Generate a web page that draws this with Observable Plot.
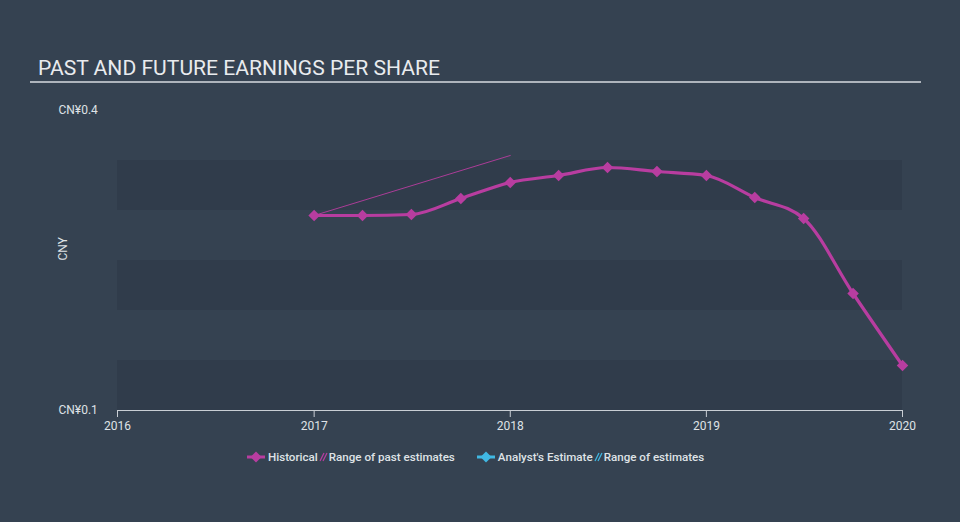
<!DOCTYPE html>
<html>
<head>
<meta charset="utf-8">
<script src="https://cdn.jsdelivr.net/npm/d3@7"></script>
<script src="https://cdn.jsdelivr.net/npm/@observablehq/plot@0.6"></script>
<style>
  html, body { margin: 0; padding: 0; background: #354251; }
  #wrap { position: relative; width: 960px; height: 522px; overflow: hidden;
          background: #354251; font-family: Roboto, "Noto Sans", sans-serif; }
  #title { position: absolute; left: 38px; top: 55px; font-size: 21.1px; color: #e9ebee; }
  #rule { position: absolute; left: 30px; top: 81px; width: 891px; height: 2px; background: #aeb4bc; }
  #chart { position: absolute; left: 0; top: 0; }
  #legend { position: absolute; left: 246px; top: 450px; font-size: 11.6px; color: #dfe2e6;
            display: flex; align-items: center; white-space: nowrap; font-weight: 500; }
  #legend svg { display: inline-block; vertical-align: middle; }
  #legend span { margin-right: 1px; }
</style>
</head>
<body>
<div id="wrap">
  <div id="title">PAST AND FUTURE EARNINGS PER SHARE</div>
  <div id="rule"></div>
  <div id="chart"></div>
  <div id="legend">
    <svg width="20" height="14"><line x1="1" y1="7" x2="19" y2="7" stroke="#b83da0" stroke-width="3"/><path d="M10 1.5 L15.5 7 L10 12.5 L4.5 7 Z" fill="#b83da0"/></svg>
    <span style="margin-left:2px">Historical</span>
    <svg width="10" height="14"><line x1="1" y1="11" x2="5" y2="3" stroke="#b83da0" stroke-width="1.3"/><line x1="4" y1="11" x2="8" y2="3" stroke="#b83da0" stroke-width="1.3"/></svg>
    <span>Range of past estimates</span>
    <svg width="20" height="14" style="margin-left:20px"><line x1="1" y1="7" x2="19" y2="7" stroke="#40b8e3" stroke-width="3"/><path d="M10 1.5 L15.5 7 L10 12.5 L4.5 7 Z" fill="#40b8e3"/></svg>
    <span style="margin-left:2px">Analyst's Estimate</span>
    <svg width="10" height="14"><line x1="1" y1="11" x2="5" y2="3" stroke="#40b8e3" stroke-width="1.3"/><line x1="4" y1="11" x2="8" y2="3" stroke="#40b8e3" stroke-width="1.3"/></svg>
    <span>Range of estimates</span>
  </div>
</div>
<script>
// Historical EPS (CNY), quarterly
const histDates = ["2017-01-01","2017-04-01","2017-07-01","2017-10-01","2018-01-01","2018-04-01","2018-07-01","2018-10-01","2019-01-01","2019-04-01","2019-07-01","2019-10-01","2020-01-01"];
const histEPS = [0.295,0.295,0.296,0.312,0.328,0.335,0.343,0.339,0.335,0.313,0.292,0.217,0.145];

// Range of past estimates
const pastEstDates = ["2017-01-01","2018-01-01"];
const pastEstEPS = [0.295,0.355];

// Axis
const xDomain = ["2016-01-01","2020-01-01"];
const xTicks = ["2016-01-01","2017-01-01","2018-01-01","2019-01-01","2020-01-01"];
const yDomain = [0.1, 0.4];
const yTicks = [0.1, 0.4];
const bands = [[0.1,0.15],[0.2,0.25],[0.3,0.35]];

const hist = histDates.map((d,i) => ({date: new Date(d), eps: histEPS[i]}));
const pastEst = pastEstDates.map((d,i) => ({date: new Date(d), eps: pastEstEPS[i]}));
const magenta = "#b83da0";

const plot = Plot.plot({
  width: 960,
  height: 522,
  marginLeft: 117,
  marginRight: 58,
  marginTop: 110,
  marginBottom: 112,
  style: {background: "transparent", fontFamily: "Roboto, 'Noto Sans', sans-serif", fontSize: "12px", color: "#dfe2e6"},
  x: {type: "utc", domain: xDomain.map(d => new Date(d))},
  y: {domain: yDomain},
  marks: [
    Plot.rect(bands, {y1: d => d[0], y2: d => d[1], fill: "#303c4b"}),
    Plot.ruleY([yDomain[0]], {stroke: "#c9ced4", strokeWidth: 1}),
    Plot.axisX({ticks: xTicks.map(d => new Date(d)), tickFormat: d3.utcFormat("%Y"), tickSize: 7, tickPadding: 4,
                 stroke: "#c9ced4", color: "#dfe2e6", fontSize: 12, label: null}),
    Plot.axisY({ticks: yTicks, tickSize: 0, tickPadding: 0, textAnchor: "start", dx: -59,
                tickFormat: d => "CN¥" + d3.format(".1f")(d), fill: "#dfe2e6", fontSize: 12, label: null}),
    Plot.text(["CNY"], {frameAnchor: "left", rotate: -90, dx: -54, fill: "#dfe2e6", fontSize: 12}),
    Plot.line(pastEst, {x: "date", y: "eps", stroke: magenta, strokeWidth: 1, strokeOpacity: 0.9}),
    Plot.line(hist, {x: "date", y: "eps", stroke: magenta, strokeWidth: 3.2, curve: "monotone-x"}),
    Plot.dot(hist, {x: "date", y: "eps", symbol: "square", r: 4.6, rotate: 45, fill: magenta, stroke: "none"})
  ]
});
document.getElementById("chart").appendChild(plot);
</script>
</body>
</html>
